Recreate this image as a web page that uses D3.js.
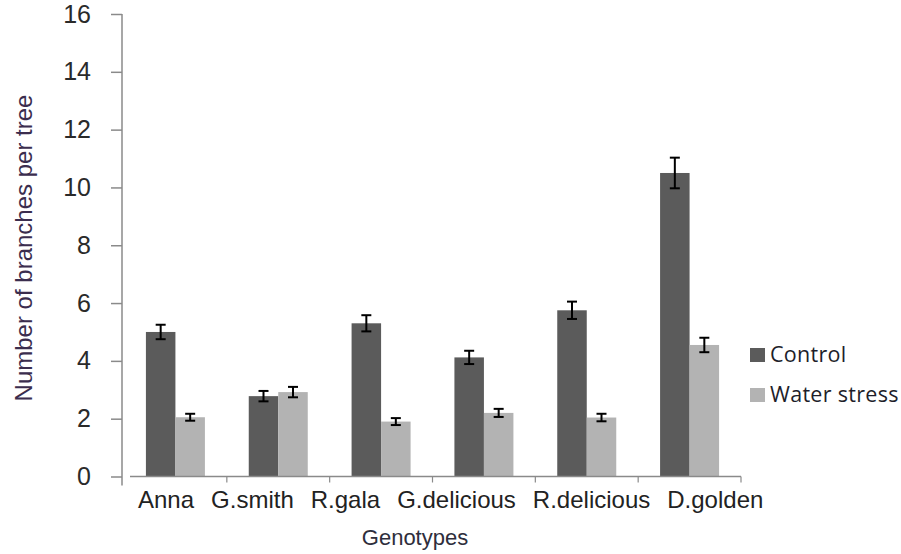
<!DOCTYPE html>
<html>
<head>
<meta charset="utf-8">
<script src="https://cdn.jsdelivr.net/npm/d3@7"></script>
<style>
  html, body { margin: 0; padding: 0; background: #fff; }
  svg { display: block; }
</style>
</head>
<body>
<svg id="chart" width="901" height="554"></svg>
<script>
// Genotypes and the two treatments
const genotypes = ["Anna", "G.smith", "R.gala", "G.delicious", "R.delicious", "D.golden"];
const seriesNames = ["Control", "Water stress"];

// Mean number of branches per tree
const controlValues = [5.0, 2.78, 5.3, 4.12, 5.75, 10.5];
const stressValues  = [2.05, 2.92, 1.9, 2.2, 2.04, 4.55];

// Standard errors
const controlErrors = [0.25, 0.18, 0.28, 0.23, 0.3, 0.53];
const stressErrors  = [0.12, 0.18, 0.12, 0.14, 0.13, 0.25];

const yTicks = [0, 2, 4, 6, 8, 10, 12, 14, 16];

const colors = { "Control": "#5b5b5b", "Water stress": "#b3b3b3" };

const svg = d3.select("#chart");

const plotLeft = 124, plotRight = 741, plotBottom = 476.5, plotTop = 14;

const x = d3.scaleBand().domain(genotypes).range([plotLeft, plotRight]).padding(0);
const pairWidth = 59;
const x1 = d3.scaleBand().domain(seriesNames).range([0, pairWidth]).padding(0);
const pairOffset = (x.bandwidth() - pairWidth) / 2;

const y = d3.scaleLinear().domain([0, 16]).range([plotBottom, plotTop]);

const rows = genotypes.map((g, i) => ({
  genotype: g,
  bars: [
    { series: "Control", value: controlValues[i], err: controlErrors[i] },
    { series: "Water stress", value: stressValues[i], err: stressErrors[i] }
  ]
}));

// Bars
const groups = svg.append("g").selectAll("g")
  .data(rows).join("g")
  .attr("transform", d => `translate(${x(d.genotype) + pairOffset},0)`);

groups.selectAll("rect")
  .data(d => d.bars).join("rect")
  .attr("x", d => x1(d.series))
  .attr("y", d => y(d.value))
  .attr("width", x1.bandwidth())
  .attr("height", d => y(0) - y(d.value))
  .attr("fill", d => colors[d.series]);

// Error bars
const errG = groups.selectAll("g.err")
  .data(d => d.bars).join("g").attr("class", "err")
  .attr("stroke", "#000").attr("stroke-width", 2);
const capHalf = 5;
errG.append("line")
  .attr("x1", d => x1(d.series) + x1.bandwidth() / 2)
  .attr("x2", d => x1(d.series) + x1.bandwidth() / 2)
  .attr("y1", d => y(d.value + d.err))
  .attr("y2", d => y(d.value - d.err));
errG.append("line")
  .attr("x1", d => x1(d.series) + x1.bandwidth() / 2 - capHalf)
  .attr("x2", d => x1(d.series) + x1.bandwidth() / 2 + capHalf)
  .attr("y1", d => y(d.value + d.err))
  .attr("y2", d => y(d.value + d.err));
errG.append("line")
  .attr("x1", d => x1(d.series) + x1.bandwidth() / 2 - capHalf)
  .attr("x2", d => x1(d.series) + x1.bandwidth() / 2 + capHalf)
  .attr("y1", d => y(d.value - d.err))
  .attr("y2", d => y(d.value - d.err));

// Y axis
const axisColor = "#8a8a8a";
const yAxis = svg.append("g")
  .attr("transform", `translate(122,0)`)
  .call(d3.axisLeft(y).tickValues(yTicks).tickSize(11).tickPadding(20).tickFormat(d3.format("d")));
yAxis.select(".domain").remove();
yAxis.selectAll(".tick line").attr("stroke", axisColor).attr("stroke-width", 1.5);
yAxis.selectAll(".tick text")
  .attr("font-family", "Liberation Sans, Arial, sans-serif")
  .attr("font-size", 25)
  .attr("fill", "#2a2a2a");
yAxis.append("line")
  .attr("x1", 0).attr("x2", 0)
  .attr("y1", y(16)).attr("y2", y(0) + 9)
  .attr("stroke", axisColor).attr("stroke-width", 1.5);

// X axis
const xAxisG = svg.append("g");
xAxisG.append("line")
  .attr("x1", plotLeft + 6).attr("x2", plotRight)
  .attr("y1", y(0)).attr("y2", y(0))
  .attr("stroke", axisColor).attr("stroke-width", 1.5);
const boundaries = genotypes.slice(1).map(g => x(g)).concat([x(genotypes[genotypes.length - 1]) + x.bandwidth()]);
xAxisG.selectAll("line.tick")
  .data(boundaries).join("line").attr("class", "tick")
  .attr("x1", d => d).attr("x2", d => d)
  .attr("y1", y(0)).attr("y2", y(0) + 6)
  .attr("stroke", axisColor).attr("stroke-width", 1.2);

// Category labels are set as one running line with an even gap between names
const labelGap = 17;
const labels = xAxisG.selectAll("text")
  .data(genotypes).join("text")
  .attr("y", 508)
  .attr("font-family", "Liberation Sans, Arial, sans-serif")
  .attr("font-size", 24)
  .attr("fill", "#222")
  .text(d => d);
let cursor = 138;
labels.each(function () {
  d3.select(this).attr("x", cursor);
  cursor += this.getComputedTextLength() + labelGap;
});

// Axis titles
svg.append("text")
  .attr("x", 415)
  .attr("y", 545)
  .attr("text-anchor", "middle")
  .attr("font-family", "Liberation Sans, Arial, sans-serif")
  .attr("font-size", 22)
  .attr("fill", "#2e2e3c")
  .text("Genotypes");

svg.append("text")
  .attr("transform", "translate(32,248) rotate(-90)")
  .attr("text-anchor", "middle")
  .attr("font-family", "Liberation Sans, Arial, sans-serif")
  .attr("font-size", 24)
  .attr("fill", "#3b2d4e")
  .text("Number of branches per tree");

// Legend
const legend = svg.append("g").selectAll("g")
  .data(seriesNames).join("g")
  .attr("transform", (d, i) => `translate(750,${348 + i * 40})`);
legend.append("rect")
  .attr("width", 15).attr("height", 14)
  .attr("fill", d => colors[d]);
legend.append("text")
  .attr("x", 20).attr("y", 14)
  .attr("font-family", "Open Sans, sans-serif")
  .attr("font-size", 21.5)
  .attr("letter-spacing", 0.3)
  .attr("fill", "#1e1e2a")
  .text(d => d);
</script>
</body>
</html>
